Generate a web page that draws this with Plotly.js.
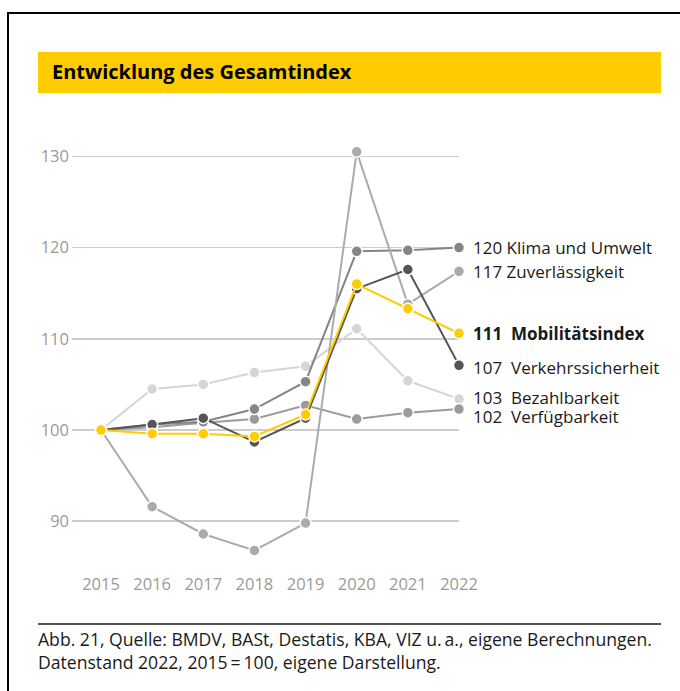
<!DOCTYPE html>
<html>
<head>
<meta charset="utf-8">
<script src="https://cdn.plot.ly/plotly-3.0.1.min.js"></script>
<style>html,body{margin:0;padding:0;background:#fff;}#chart{width:680px;height:691px;}</style>
</head>
<body>
<div id="chart"></div>
<script>
// ---- data ----
const years = [2015, 2016, 2017, 2018, 2019, 2020, 2021, 2022];
const bezahlbarkeit      = [100, 104.5, 105.0, 106.3, 107.0, 111.1, 105.4, 103.4];
const verfuegbarkeit     = [100, 100.3, 100.8, 101.2, 102.7, 101.2, 101.9, 102.3];
const klimaUmwelt        = [100, 100.6, 100.9, 102.3, 105.3, 119.6, 119.7, 120.0];
const zuverlaessigkeit   = [100, 91.6, 88.6, 86.8, 89.8, 130.5, 113.8, 117.4];
const verkehrssicherheit = [100, 100.6, 101.3, 98.7, 101.3, 115.5, 117.6, 107.1];
const mobilitaetsindex   = [100, 99.6, 99.6, 99.3, 101.7, 116.0, 113.3, 110.6];
const seriesNames  = ["Bezahlbarkeit", "Verfügbarkeit", "Klima und Umwelt", "Zuverlässigkeit", "Verkehrssicherheit", "Mobilitätsindex"];
const endLabels    = [103, 102, 120, 117, 107, 111];
const yTicks = [90, 100, 110, 120, 130];
const titleText = "Entwicklung des Gesamtindex";
const sourceText = "Abb. 21, Quelle: BMDV, BASt, Destatis, KBA, VIZ u.\u2009a., eigene Berechnungen.<br>Datenstand 2022, 2015\u2009=\u2009100, eigene Darstellung.";

// ---- styles ----
const seriesData = [bezahlbarkeit, verfuegbarkeit, klimaUmwelt, zuverlaessigkeit, verkehrssicherheit, mobilitaetsindex];
const colors = ["#d3d5d6", "#9b9b9b", "#858585", "#ababab", "#555555", "#ffcc00"];
const labelShift = [2, -7, 0, 0, -2, 0];
const labelSep = ["\u00a0 ", "\u00a0 ", " ", " ", "\u00a0 ", "\u00a0 "];
const FONT = "'Open Sans', sans-serif";

const L = 72, R = 221, T = 138, B = 125, WIDTH = 680, HEIGHT = 691;
const PW = WIDTH - L - R, PH = HEIGHT - T - B;
const X = p => (p - L) / PW;
const Y = p => (HEIGHT - B - p) / PH;

const traces = seriesData.map((vals, i) => ({
  type: "scatter",
  mode: "lines+markers",
  x: years,
  y: vals,
  name: seriesNames[i],
  line: {color: colors[i], width: 2},
  marker: {color: colors[i], size: 11, line: {color: "#ffffff", width: 1.5}},
  cliponaxis: false,
  hoverinfo: "skip"
}));

const annotations = seriesData.map((vals, i) => ({
  x: years[years.length - 1],
  y: vals[vals.length - 1],
  xref: "x", yref: "y",
  xanchor: "left", yanchor: "middle",
  xshift: 12, yshift: labelShift[i],
  showarrow: false,
  text: i === 5 ? "<b>" + endLabels[i] + labelSep[i] + seriesNames[i] + "</b>" : endLabels[i] + labelSep[i] + seriesNames[i],
  font: {family: FONT, size: 17, color: "#1a1a1a"}
}));

annotations.push({
  x: X(50), y: Y(72), xref: "paper", yref: "paper",
  xanchor: "left", yanchor: "middle", showarrow: false,
  text: "<b>" + titleText + "</b>",
  font: {family: FONT, size: 20, color: "#000"}
});
annotations.push({
  x: X(36), y: Y(650), xref: "paper", yref: "paper",
  xanchor: "left", yanchor: "middle", showarrow: false, align: "left",
  text: sourceText,
  font: {family: FONT, size: 17.6, color: "#1a1a1a"}
});

const shapes = [
  {type: "rect", xref: "paper", yref: "paper", x0: X(8), x1: X(690), y0: Y(13), y1: Y(700),
   line: {color: "#000", width: 2}, fillcolor: "rgba(0,0,0,0)", layer: "below"},
  {type: "rect", xref: "paper", yref: "paper", x0: X(38), x1: X(661), y0: Y(52), y1: Y(93),
   line: {width: 0}, fillcolor: "#ffcc00", layer: "below"},
  {type: "line", xref: "paper", yref: "paper", x0: X(38), x1: X(661), y0: Y(624), y1: Y(624),
   line: {color: "#1a1a1a", width: 1.5}}
];

const layout = {
  width: WIDTH, height: HEIGHT, autosize: false,
  margin: {l: L, r: R, t: T, b: B, pad: 0},
  paper_bgcolor: "#fff", plot_bgcolor: "#fff",
  showlegend: false,
  font: {family: FONT},
  xaxis: {
    range: [2014.433, 2022], tickvals: years, ticktext: years.map(String),
    showgrid: false, zeroline: false, showline: false, ticks: "",
    tickfont: {family: FONT, size: 16.5, color: "#9a9a9a"}, ticklabelstandoff: 6, fixedrange: true
  },
  yaxis: {
    range: [85.09, 132.02], tickvals: yTicks,
    showgrid: true, gridcolor: "#cccccc", gridwidth: 1.5, zeroline: false, showline: false, ticks: "",
    tickfont: {family: FONT, size: 16.5, color: "#9a9a9a"}, ticklabelstandoff: 2, fixedrange: true
  },
  shapes: shapes,
  annotations: annotations,
  hovermode: false
};

Plotly.newPlot("chart", traces, layout, {displayModeBar: false, staticPlot: true});
</script>
</body>
</html>
